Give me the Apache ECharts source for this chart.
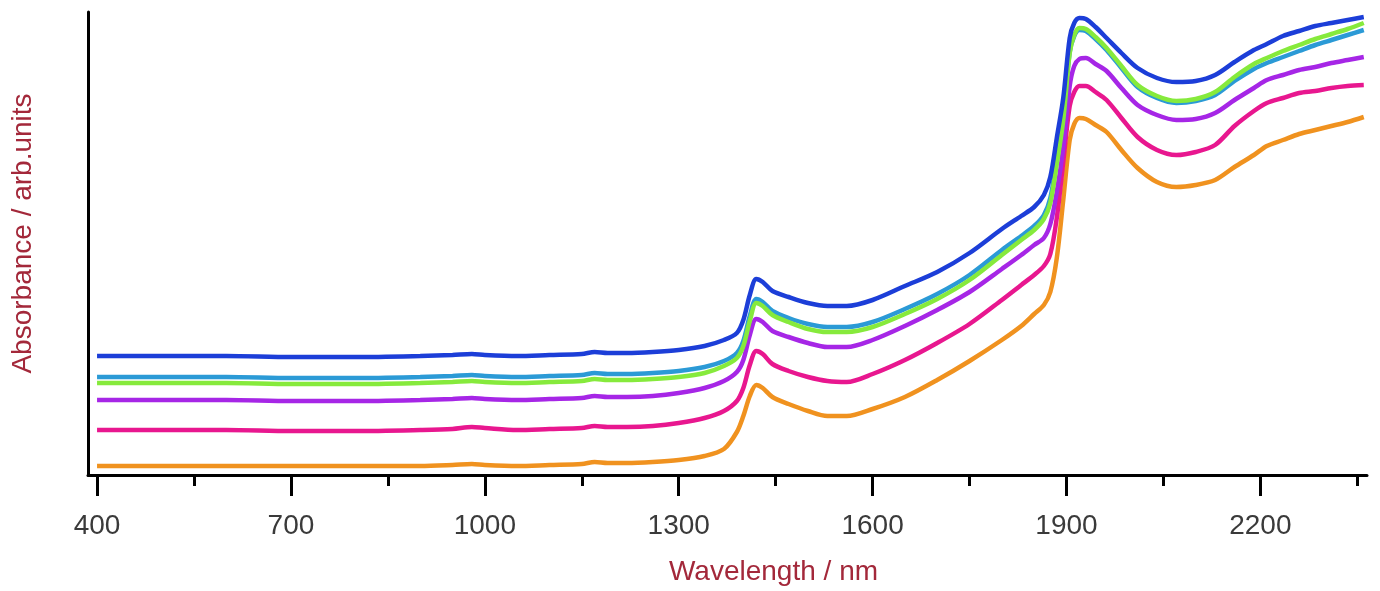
<!DOCTYPE html>
<html>
<head>
<meta charset="utf-8">
<script src="https://cdn.jsdelivr.net/npm/echarts@6/dist/echarts.min.js"></script>
<style>
html,body{margin:0;padding:0;background:#fff;}
#chart{width:1380px;height:591px;}
</style>
</head>
<body>
<div id="chart"></div>
<script>
// Wavelengths (nm)
const wavelengths = [400,500,600,700,800,900,950,980,1000,1050,1100,1150,1170,1190,1220,1260,1300,1340,1370,1390,1400,1410,1420,1430,1445,1470,1500,1530,1560,1600,1650,1700,1750,1800,1830,1850,1865,1875,1885,1895,1905,1912,1920,1930,1945,1962,1985,2010,2040,2070,2100,2130,2160,2190,2210,2235,2260,2285,2310,2335,2360];

// Absorbance (arb. units) per sample
const blueSeries = [1.19,1.19,1.19,1.18,1.18,1.19,1.20,1.21,1.20,1.19,1.20,1.21,1.23,1.22,1.22,1.23,1.25,1.29,1.35,1.42,1.55,1.80,1.96,1.93,1.84,1.78,1.72,1.69,1.69,1.75,1.89,2.03,2.22,2.46,2.59,2.68,2.80,2.98,3.37,3.77,4.37,4.52,4.57,4.56,4.48,4.37,4.22,4.07,3.97,3.93,3.94,4.00,4.13,4.25,4.31,4.39,4.44,4.49,4.52,4.55,4.58];
const cyanSeries = [0.98,0.98,0.98,0.97,0.97,0.98,0.99,1.00,0.99,0.98,0.99,1.00,1.02,1.01,1.01,1.02,1.04,1.08,1.14,1.22,1.34,1.59,1.76,1.73,1.64,1.57,1.51,1.48,1.48,1.53,1.66,1.81,2.00,2.25,2.39,2.49,2.60,2.77,3.15,3.58,4.23,4.39,4.45,4.44,4.36,4.25,4.07,3.88,3.77,3.72,3.74,3.80,3.94,4.06,4.12,4.18,4.24,4.30,4.35,4.40,4.45];
const greenSeries = [0.92,0.92,0.92,0.91,0.91,0.92,0.93,0.94,0.93,0.92,0.93,0.94,0.96,0.95,0.95,0.96,0.98,1.02,1.09,1.17,1.29,1.54,1.72,1.69,1.60,1.53,1.46,1.43,1.43,1.48,1.61,1.76,1.95,2.20,2.35,2.45,2.56,2.72,3.11,3.55,4.22,4.40,4.47,4.46,4.38,4.27,4.09,3.90,3.79,3.74,3.76,3.83,3.98,4.11,4.17,4.24,4.30,4.36,4.41,4.46,4.52];
const purpleSeries = [0.75,0.75,0.75,0.74,0.74,0.75,0.76,0.77,0.76,0.75,0.76,0.77,0.79,0.78,0.78,0.79,0.82,0.87,0.94,1.03,1.15,1.40,1.56,1.53,1.44,1.38,1.32,1.28,1.28,1.35,1.49,1.65,1.83,2.06,2.20,2.30,2.37,2.51,2.83,3.27,3.89,4.09,4.16,4.17,4.11,4.04,3.87,3.70,3.60,3.55,3.56,3.62,3.75,3.87,3.95,4.00,4.05,4.08,4.12,4.15,4.18];
const magentaSeries = [0.45,0.45,0.45,0.44,0.44,0.45,0.46,0.48,0.47,0.45,0.46,0.47,0.49,0.48,0.48,0.49,0.52,0.57,0.64,0.74,0.87,1.10,1.24,1.21,1.11,1.04,0.98,0.94,0.93,1.01,1.15,1.32,1.51,1.75,1.90,2.00,2.09,2.21,2.57,3.13,3.69,3.83,3.89,3.89,3.83,3.75,3.57,3.38,3.25,3.20,3.23,3.30,3.49,3.64,3.72,3.77,3.82,3.84,3.87,3.89,3.90];
const orangeSeries = [0.09,0.09,0.09,0.09,0.09,0.09,0.10,0.11,0.10,0.09,0.10,0.11,0.13,0.12,0.12,0.13,0.15,0.19,0.26,0.43,0.59,0.79,0.90,0.87,0.78,0.71,0.64,0.59,0.59,0.66,0.78,0.95,1.14,1.35,1.49,1.61,1.70,1.83,2.17,2.75,3.35,3.51,3.57,3.56,3.50,3.43,3.25,3.07,2.93,2.88,2.90,2.95,3.08,3.20,3.29,3.35,3.41,3.45,3.49,3.53,3.58];

// Tick values
const majorTicks = [400,700,1000,1300,1600,1900,2200];
const minorTicks = [550,850,1150,1450,1750,2050,2350];

const xMin = 386, xMax = 2365;

const pair = arr => wavelengths.map((w,i)=>[w,arr[i]]);

const seriesDefs = [
  {name:'orange', data:orangeSeries, color:'#f0921f'},
  {name:'magenta', data:magentaSeries, color:'#e8178f'},
  {name:'purple', data:purpleSeries, color:'#a626e6'},
  {name:'cyan', data:cyanSeries, color:'#2b9ad6'},
  {name:'green', data:greenSeries, color:'#86ea3c'},
  {name:'blue', data:blueSeries, color:'#1c3ed8'}
];

const font = 'Liberation Sans, Arial, sans-serif';
const chart = echarts.init(document.getElementById('chart'), null, {renderer:'canvas'});
chart.setOption({
  animation:false,
  backgroundColor:'#ffffff',
  grid:{left:88, right:13, top:12, bottom:116, containLabel:false, outerBoundsMode:'none'},
  xAxis:[{
    type:'value', min:xMin, max:xMax,
    name:'Wavelength / nm', nameLocation:'middle', nameGap:83,
    nameTextStyle:{color:'#a3283a', fontSize:28, fontFamily:font, padding:[0,0,0,92]},
    axisLine:{show:true, onZero:false, lineStyle:{color:'#000', width:3}},
    axisTick:{show:true, customValues:majorTicks, length:21, inside:false, lineStyle:{color:'#000', width:3}},
    axisLabel:{show:true, customValues:majorTicks, margin:37, color:'#3a3a3a', fontSize:28, fontFamily:font,
      formatter:v=>String(v)},
    splitLine:{show:false}
  },{
    type:'value', min:xMin, max:xMax, position:'bottom',
    axisLine:{show:false},
    axisTick:{show:true, customValues:minorTicks, length:11, lineStyle:{color:'#000', width:3}},
    axisLabel:{show:false},
    splitLine:{show:false}
  }],
  yAxis:{
    type:'value', min:0, max:4.63,
    name:'Absorbance / arb.units', nameLocation:'middle', nameGap:51,
    nameTextStyle:{color:'#a3283a', fontSize:28, fontFamily:font, padding:[0,0,0,20]},
    axisLine:{show:true, onZero:false, lineStyle:{color:'#000', width:3}},
    axisTick:{show:false}, axisLabel:{show:false}, splitLine:{show:false}
  },
  series: seriesDefs.map(s=>({
    name:s.name, type:'line', data:pair(s.data), showSymbol:false, symbol:'none',
    smooth:0.3, xAxisIndex:0,
    lineStyle:{color:s.color, width:4.5}, itemStyle:{color:s.color}
  }))
});
</script>
</body>
</html>
